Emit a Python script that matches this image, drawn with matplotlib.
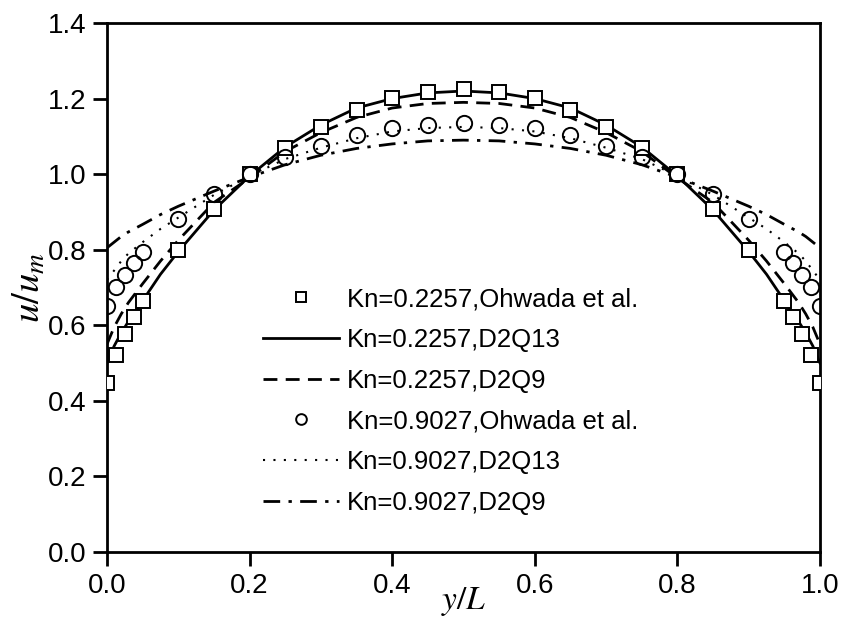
import numpy as np
import matplotlib
matplotlib.use('Agg')
import matplotlib.pyplot as plt

plt.rcParams['font.family'] = ['Liberation Sans', 'DejaVu Sans']
plt.rcParams['mathtext.fontset'] = 'stix'

# Ohwada et al. data points
y_pts = [0.0, 0.0125, 0.025, 0.0375, 0.05, 0.1, 0.15, 0.2, 0.25, 0.3, 0.35, 0.4, 0.45, 0.5,
         0.55, 0.6, 0.65, 0.7, 0.75, 0.8, 0.85, 0.9, 0.95, 0.9625, 0.975, 0.9875, 1.0]
u_ohwada_1 = [0.447, 0.521, 0.577, 0.622, 0.664, 0.799, 0.907, 1.0, 1.069, 1.124, 1.169, 1.201, 1.217, 1.225,
              1.217, 1.201, 1.169, 1.124, 1.069, 1.0, 0.907, 0.799, 0.664, 0.622, 0.577, 0.521, 0.447]
u_ohwada_2 = [0.651, 0.701, 0.733, 0.765, 0.794, 0.881, 0.947, 1.0, 1.045, 1.074, 1.103, 1.122, 1.13, 1.135,
              1.13, 1.122, 1.103, 1.074, 1.045, 1.0, 0.947, 0.881, 0.794, 0.765, 0.733, 0.701, 0.651]

# simulated profiles
y_line = [0.0, 0.01, 0.02, 0.03, 0.05, 0.075, 0.1, 0.15, 0.2, 0.25, 0.3, 0.35, 0.4, 0.45, 0.5,
          0.55, 0.6, 0.65, 0.7, 0.75, 0.8, 0.85, 0.9, 0.925, 0.95, 0.97, 0.98, 0.99, 1.0]
u_d2q13_1 = [0.50, 0.545, 0.58, 0.61, 0.665, 0.735, 0.795, 0.905, 0.995, 1.072, 1.13, 1.175, 1.2, 1.215, 1.22,
             1.215, 1.2, 1.175, 1.13, 1.072, 0.995, 0.905, 0.795, 0.735, 0.665, 0.61, 0.58, 0.545, 0.50]
u_d2q9_1 = [0.55, 0.595, 0.63, 0.66, 0.71, 0.77, 0.825, 0.925, 0.99, 1.06, 1.11, 1.15, 1.175, 1.187, 1.19,
            1.187, 1.175, 1.15, 1.11, 1.06, 0.99, 0.925, 0.825, 0.77, 0.71, 0.66, 0.63, 0.595, 0.55]
u_d2q13_2 = [0.72, 0.745, 0.77, 0.79, 0.82, 0.855, 0.885, 0.945, 0.995, 1.04, 1.07, 1.095, 1.113, 1.122, 1.125,
             1.122, 1.113, 1.095, 1.07, 1.04, 0.995, 0.945, 0.885, 0.855, 0.82, 0.79, 0.77, 0.745, 0.72]
u_d2q9_2 = [0.805, 0.82, 0.835, 0.847, 0.867, 0.893, 0.915, 0.955, 0.992, 1.025, 1.05, 1.068, 1.08, 1.088, 1.09,
            1.088, 1.08, 1.068, 1.05, 1.025, 0.992, 0.955, 0.915, 0.893, 0.867, 0.847, 0.835, 0.82, 0.805]

fig = plt.figure(figsize=(8.47, 6.24), dpi=100)
ax = fig.add_axes([107/847, 1 - 552/624, (820-107)/847, (552-23)/624])

ax.plot(y_pts, u_ohwada_1, 's', mfc='white', mec='black', ms=10, mew=1.4,
        label='Kn=0.2257,Ohwada et al.', zorder=3)
ax.plot(y_line, u_d2q13_1, '-', color='black', lw=2.0, label='Kn=0.2257,D2Q13')
ax.plot(y_line, u_d2q9_1, color='black', lw=2.0, ls=(0, (5, 3)), label='Kn=0.2257,D2Q9')
ax.plot(y_pts, u_ohwada_2, 'o', mfc='none', mec='black', ms=11, mew=1.4,
        label='Kn=0.9027,Ohwada et al.', zorder=3)
ax.plot(y_line, u_d2q13_2, color='black', lw=1.5, ls=(0, (1, 4)), label='Kn=0.9027,D2Q13')
ax.plot(y_line, u_d2q9_2, color='black', lw=2.0, ls=(0, (6, 3, 1.2, 3)), label='Kn=0.9027,D2Q9')

ax.set_xlim(0, 1)
ax.set_ylim(0, 1.4)
ax.set_xticks(np.arange(0, 1.01, 0.2))
ax.set_yticks(np.arange(0, 1.41, 0.2))
ax.xaxis.set_major_formatter(matplotlib.ticker.FormatStrFormatter('%.1f'))
ax.yaxis.set_major_formatter(matplotlib.ticker.FormatStrFormatter('%.1f'))
ax.tick_params(direction='out', length=10, width=2, labelsize=20, pad=5)
for s in ax.spines.values():
    s.set_linewidth(2)

ax.set_xlabel(r'$y/L$', fontsize=24, labelpad=-10)
ax.set_ylabel(r'$u/u_m$', fontsize=28, labelpad=0)

ax.legend(loc='upper left', bbox_to_anchor=(0.205, 0.52), frameon=False, fontsize=18.5,
          handlelength=2.95, handletextpad=0.3, labelspacing=0.65, markerscale=0.7,
          borderaxespad=0)

fig.savefig('out.png', dpi=100)
